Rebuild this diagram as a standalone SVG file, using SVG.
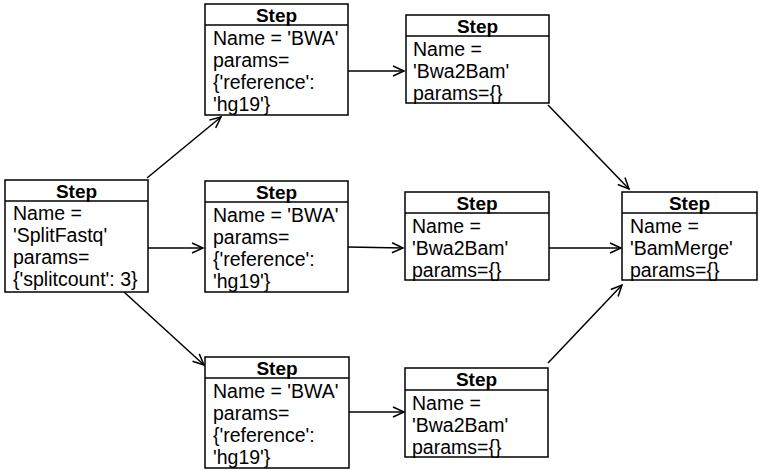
<svg xmlns="http://www.w3.org/2000/svg" width="759" height="470" viewBox="0 0 759 470">
  <style>
    .box { fill: #ffffff; stroke: #000000; stroke-width: 1.5; }
    .sep { stroke: #000000; stroke-width: 1.5; }
    .hdr { font-family: "Liberation Sans", Arial, sans-serif; font-size: 19px; font-weight: bold; text-anchor: middle; fill: #000; }
    .txt { font-family: "Liberation Sans", Arial, sans-serif; font-size: 19.5px; fill: #000; }
    .edge { stroke: #000000; stroke-width: 1.5; fill: none; marker-end: url(#open); }
  </style>
  <defs>
    <marker id="open" markerUnits="userSpaceOnUse" markerWidth="14" markerHeight="14" refX="12" refY="6" orient="auto">
      <path d="M1,1 L12,6 L1,11" fill="none" stroke="#000" stroke-width="1.5"/>
    </marker>
  </defs>

  <g id="connectors">
    <line class="edge" x1="147" y1="178" x2="221" y2="117"/>
    <line class="edge" x1="148" y1="248" x2="203" y2="248"/>
    <line class="edge" x1="124" y1="292" x2="204" y2="365"/>
    <line class="edge" x1="348" y1="71" x2="404" y2="71"/>
    <line class="edge" x1="348" y1="247" x2="403" y2="248"/>
    <line class="edge" x1="349" y1="412" x2="404" y2="412"/>
    <line class="edge" x1="548" y1="105" x2="629" y2="189"/>
    <line class="edge" x1="549" y1="248" x2="621" y2="248"/>
    <line class="edge" x1="548" y1="363" x2="622" y2="285"/>
  </g>

  <g id="splitfastq">
    <rect class="box" x="5" y="180" width="143" height="112"/>
    <line class="sep" x1="5" y1="201" x2="148" y2="201"/>
    <text class="hdr" x="76.5" y="198">Step</text>
    <text class="txt" x="13" y="220">Name =</text>
    <text class="txt" x="13" y="242">'SplitFastq'</text>
    <text class="txt" x="13" y="264">params=</text>
    <text class="txt" x="13" y="286">{'splitcount': 3}</text>
  </g>

  <g id="bwa-1">
    <rect class="box" x="205" y="4" width="143" height="111"/>
    <line class="sep" x1="205" y1="25" x2="348" y2="25"/>
    <text class="hdr" x="276.5" y="22">Step</text>
    <text class="txt" x="213" y="45">Name = 'BWA'</text>
    <text class="txt" x="213" y="67">params=</text>
    <text class="txt" x="213" y="89">{'reference':</text>
    <text class="txt" x="213" y="111">'hg19'}</text>
  </g>

  <g id="bwa-2">
    <rect class="box" x="205" y="181" width="143" height="111"/>
    <line class="sep" x1="205" y1="202" x2="348" y2="202"/>
    <text class="hdr" x="276.5" y="199">Step</text>
    <text class="txt" x="213" y="222">Name = 'BWA'</text>
    <text class="txt" x="213" y="244">params=</text>
    <text class="txt" x="213" y="266">{'reference':</text>
    <text class="txt" x="213" y="288">'hg19'}</text>
  </g>

  <g id="bwa-3">
    <rect class="box" x="205" y="357" width="144" height="111"/>
    <line class="sep" x1="205" y1="378" x2="349" y2="378"/>
    <text class="hdr" x="277" y="375">Step</text>
    <text class="txt" x="213" y="398">Name = 'BWA'</text>
    <text class="txt" x="213" y="420">params=</text>
    <text class="txt" x="213" y="442">{'reference':</text>
    <text class="txt" x="213" y="464">'hg19'}</text>
  </g>

  <g id="bwa2bam-1">
    <rect class="box" x="406" y="15" width="143" height="88"/>
    <line class="sep" x1="406" y1="36" x2="549" y2="36"/>
    <text class="hdr" x="477.5" y="33">Step</text>
    <text class="txt" x="413" y="56">Name =</text>
    <text class="txt" x="413" y="78">'Bwa2Bam'</text>
    <text class="txt" x="413" y="100">params={}</text>
  </g>

  <g id="bwa2bam-2">
    <rect class="box" x="405" y="192" width="144" height="88"/>
    <line class="sep" x1="405" y1="213" x2="549" y2="213"/>
    <text class="hdr" x="477" y="210">Step</text>
    <text class="txt" x="412" y="233">Name =</text>
    <text class="txt" x="412" y="255">'Bwa2Bam'</text>
    <text class="txt" x="412" y="277">params={}</text>
  </g>

  <g id="bwa2bam-3">
    <rect class="box" x="405" y="368" width="143" height="89"/>
    <line class="sep" x1="405" y1="390" x2="548" y2="390"/>
    <text class="hdr" x="476.5" y="386">Step</text>
    <text class="txt" x="412" y="410">Name =</text>
    <text class="txt" x="412" y="432">'Bwa2Bam'</text>
    <text class="txt" x="412" y="454">params={}</text>
  </g>

  <g id="bammerge">
    <rect class="box" x="622" y="192" width="135" height="88"/>
    <line class="sep" x1="622" y1="213" x2="757" y2="213"/>
    <text class="hdr" x="689.5" y="210">Step</text>
    <text class="txt" x="630" y="233">Name =</text>
    <text class="txt" x="630" y="255">'BamMerge'</text>
    <text class="txt" x="630" y="277">params={}</text>
  </g>
</svg>
